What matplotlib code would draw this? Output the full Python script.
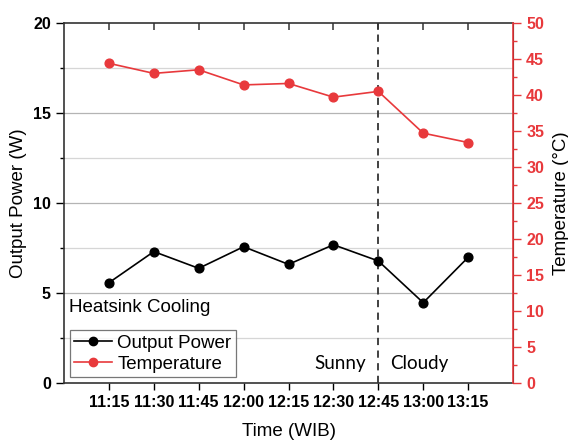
import matplotlib
matplotlib.use("Agg")
import matplotlib.pyplot as plt
from matplotlib.ticker import MultipleLocator
from matplotlib.lines import Line2D
from matplotlib.transforms import blended_transform_factory
from matplotlib.markers import TICKDOWN

times = ["11:15", "11:30", "11:45", "12:00", "12:15", "12:30", "12:45", "13:00", "13:15"]
power = [5.57, 7.3, 6.37, 7.57, 6.59, 7.68, 6.78, 4.46, 6.98]
temperature = [44.4, 43.0, 43.5, 41.4, 41.6, 39.7, 40.5, 34.7, 33.4]
weather_change = "12:45"

RED = "#e8393c"
plt.rcParams["font.family"] = ["Liberation Sans", "DejaVu Sans"]

fig = plt.figure(figsize=(5.68, 4.42), dpi=100)
ax = fig.add_axes([0.1127, 0.1335, 0.7905, 0.8145])
x = list(range(len(times)))

# grid: major every 5 W, minor every 2.5 W
for v in [2.5, 7.5, 12.5, 17.5]:
    ax.axhline(v, color="#d6d6d6", lw=0.9, zorder=0)
for v in [5, 10, 15]:
    ax.axhline(v, color="#b4b4b4", lw=0.9, zorder=0)

ax.plot(x, power, color="black", marker="o", ms=6.3, lw=1.2, zorder=3)
ax.set_xlim(-1, len(times))
ax.set_ylim(0, 20)
ax.yaxis.set_major_locator(MultipleLocator(5))
ax.yaxis.set_minor_locator(MultipleLocator(2.5))
ax.set_xticks(x)
ax.set_xticklabels(times, fontweight="bold", fontsize=11.5)
ax.tick_params(axis="y", which="major", direction="out", length=6, labelsize=11.5, width=1)
ax.tick_params(axis="y", which="minor", direction="out", length=3, width=1)
ax.tick_params(axis="x", which="major", direction="out", length=5, width=1, pad=4)
for lbl in ax.get_yticklabels():
    lbl.set_fontweight("bold")
ax.set_ylabel("Output Power (W)", fontsize=13.5, labelpad=4)
ax.set_xlabel("Time (WIB)", fontsize=13.5, labelpad=9)
for s in ["left", "bottom", "top"]:
    ax.spines[s].set_color("#333333")
    ax.spines[s].set_linewidth(1.2)

# inward tick marks along the top frame at each time slot
top_tf = blended_transform_factory(ax.transData, ax.transAxes)
ax.plot(x, [1.0] * len(x), transform=top_tf, ls="none", marker=TICKDOWN,
        ms=5, mew=1.1, color="#333333", clip_on=False, zorder=4)

idx = times.index(weather_change)
ax.axvline(idx, color="#333333", ls=(0, (4, 3)), lw=1.3, zorder=2)
ax.text(idx - 0.28, 1.1, "Sunny", ha="right", va="center", fontsize=13.5,
        family=["Lato", "DejaVu Sans"])
ax.text(idx + 0.27, 1.1, "Cloudy", ha="left", va="center", fontsize=13.5,
        family=["Lato", "DejaVu Sans"])

ax2 = ax.twinx()
ax2.plot(x, temperature, color=RED, marker="o", ms=6.3, lw=1.2, zorder=3)
ax2.set_ylim(0, 50)
ax2.yaxis.set_major_locator(MultipleLocator(5))
ax2.yaxis.set_minor_locator(MultipleLocator(2.5))
ax2.tick_params(axis="y", which="major", direction="out", length=6, colors=RED, labelsize=11.5, width=1)
ax2.tick_params(axis="y", which="minor", direction="out", length=3, colors=RED, width=1)
for lbl in ax2.get_yticklabels():
    lbl.set_fontweight("bold")
ax2.spines["right"].set_color(RED)
ax2.spines["right"].set_linewidth(1.2)
for s in ["left", "bottom", "top"]:
    ax2.spines[s].set_visible(False)
ax2.set_ylabel("Temperature (\u00b0C)", fontsize=13.5, labelpad=6)

handles = [
    Line2D([], [], color="black", marker="o", ms=6, lw=1.2),
    Line2D([], [], color=RED, marker="o", ms=6, lw=1.2),
]
leg = ax2.legend(handles, ["Output Power", "Temperature"], loc="lower left",
                 bbox_to_anchor=(0.0, 0.0), fontsize=13.5, frameon=True, fancybox=False,
                 edgecolor="#555555", handlelength=2.0, handletextpad=0.3,
                 borderpad=0.25, labelspacing=0.2, borderaxespad=0.3)
leg.get_frame().set_linewidth(0.9)
ax.text(0.012, 0.21, "Heatsink Cooling", transform=ax.transAxes, fontsize=13.5,
        ha="left", va="center")

fig.savefig("out.png", dpi=100)
